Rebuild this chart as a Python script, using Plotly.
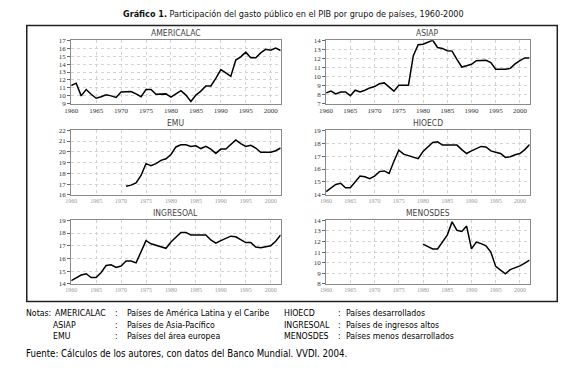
import plotly.graph_objects as go

W, H = 580, 375

years = list(range(1960, 2003))
emu_years = list(range(1971, 2003))
menosdes_years = list(range(1980, 2003))

americalac = [11.3, 11.6, 10.0, 10.8, 10.2, 9.7, 9.9, 10.15, 10.0, 9.8,
              10.5, 10.55, 10.55, 10.25, 9.9, 10.8, 10.8, 10.2, 10.25, 10.25,
              9.85, 10.2, 10.65, 10.1, 9.3, 10.1, 10.6, 11.25, 11.25, 12.2,
              13.3, 12.9, 12.45, 14.5, 14.9, 15.5, 14.8, 14.8, 15.4, 15.85,
              15.75, 16.0, 15.7]
asiap = [8.2, 8.4, 8.1, 8.3, 8.3, 7.9, 8.5, 8.3, 8.5, 8.75,
         8.9, 9.2, 9.3, 8.85, 8.4, 9.05, 9.05, 9.05, 12.3, 13.5,
         13.55, 13.75, 14.0, 13.2, 13.1, 12.85, 12.8, 11.9, 11.05, 11.2,
         11.35, 11.75, 11.8, 11.8, 11.55, 10.8, 10.8, 10.8, 10.9, 11.4,
         11.75, 12.05, 12.05]
emu = [16.8, 16.9, 17.1, 17.8, 18.9, 18.7, 18.9, 19.2, 19.35,
       19.75, 20.45, 20.65, 20.65, 20.5, 20.55, 20.3, 20.5, 20.25, 19.85,
       20.25, 20.25, 20.65, 21.1, 20.75, 20.5, 20.6, 20.35, 19.95, 19.95,
       19.95, 20.1, 20.35]
hioecd = [14.25, 14.55, 14.8, 14.9, 14.55, 14.55, 15.0, 15.45, 15.4, 15.25,
          15.45, 15.8, 15.85, 15.65, 16.6, 17.45, 17.15, 17.05, 16.95, 16.8,
          17.35, 17.7, 18.05, 18.1, 17.85, 17.85, 17.85, 17.85, 17.5, 17.2,
          17.4, 17.6, 17.75, 17.7, 17.4, 17.3, 17.2, 16.9, 16.95, 17.1,
          17.2, 17.5, 17.9]
ingresoal = [14.25, 14.5, 14.7, 14.8, 14.5, 14.5, 14.9, 15.45, 15.5, 15.3,
             15.4, 15.8, 15.8, 15.65, 16.5, 17.4, 17.15, 17.05, 16.9, 16.8,
             17.3, 17.65, 18.05, 18.05, 17.85, 17.85, 17.85, 17.85, 17.45, 17.2,
             17.4, 17.6, 17.75, 17.7, 17.5, 17.25, 17.25, 16.9, 16.85, 16.95,
             17.0, 17.35, 17.85]
menosdes = [11.75, 11.5, 11.3, 11.3, 11.9, 12.6, 13.85, 13.05, 12.95, 13.45,
            11.3, 11.95, 11.8, 11.6, 11.0, 9.65, 9.3, 8.95, 9.35, 9.5,
            9.7, 9.95, 10.25]

x_ticks = [1960, 1965, 1970, 1975, 1980, 1985, 1990, 1995, 2000]

panel_names = ["AMERICALAC", "ASIAP", "EMU", "HIOECD", "INGRESOAL", "MENOSDES"]
panel_x = [years, years, emu_years, years, years, menosdes_years]
panel_y = [americalac, asiap, emu, hioecd, ingresoal, menosdes]
y_ranges = [(9, 17), (7, 14), (16, 22), (14, 19), (14, 19), (8, 14)]

title_txt = "<b>Gráfico 1.</b> Participación del gasto público en el PIB por grupo de países, 1960-2000"
notes = [
    ("Notas:", "AMERICALAC", "Países de América Latina y el Caribe", "HIOECD", "Países desarrollados"),
    ("", "ASIAP", "Países de Asia-Pacífico", "INGRESOAL", "Países de ingresos altos"),
    ("", "EMU", "Países del área europea", "MENOSDES", "Países menos desarrollados"),
]
source_txt = "Fuente: Cálculos de los autores, con datos del Banco Mundial. VVDI. 2004."

# ---- layout geometry (pixels) ----
col_px = [(65, 277), (323, 529)]
row_px = [(37, 102), (129, 195), (221, 286)]


def fx(px):
    return px / W


def fy(py):
    return 1 - py / H


SANS = "DejaVu Sans Condensed, Liberation Sans, sans-serif"
SERIF = "Liberation Serif"

fig = go.Figure()
layout = dict(
    width=W, height=H,
    margin=dict(l=0, r=0, t=0, b=0),
    paper_bgcolor="white", plot_bgcolor="white",
    showlegend=False,
    annotations=[], shapes=[],
)

for i in range(6):
    r, c = divmod(i, 2)
    n = "" if i == 0 else str(i + 1)
    x0, x1 = col_px[c]
    y0, y1 = row_px[r]
    lab_col = "#333333" if r == 0 else "#9a9a9a"
    lab_size = 7 if r == 0 else 6
    fig.add_trace(go.Scatter(
        x=panel_x[i], y=panel_y[i], mode="lines",
        line=dict(color="black", width=1.5),
        xaxis="x" + n, yaxis="y" + n, hoverinfo="skip",
    ))
    layout["xaxis" + n] = dict(
        domain=[fx(x0), fx(x1)], anchor="y" + n, range=[1960, 2002],
        tickvals=x_ticks, ticks="", showline=True, mirror=True,
        linecolor="#8a8a8a", linewidth=1, showgrid=True,
        gridcolor="#d2d2d2", griddash="dot", gridwidth=1, zeroline=False,
        tickfont=dict(family=SERIF, size=lab_size, color=lab_col),
        ticklabelstandoff=0,
    )
    lo, hi = y_ranges[i]
    layout["yaxis" + n] = dict(
        domain=[fy(y1), fy(y0)], anchor="x" + n, range=[lo, hi], dtick=1,
        ticks="outside", ticklen=3, tickcolor="#666", tickwidth=1,
        showline=True, mirror=True, linecolor="#8a8a8a", linewidth=1,
        showgrid=True, gridcolor="#d2d2d2", griddash="dot", gridwidth=1,
        zeroline=False, tickfont=dict(family=SERIF, size=7, color="#333333"),
    )
    layout["annotations"].append(dict(
        text=panel_names[i], x=fx((x0 + x1) / 2), y=fy(y0 - 7),
        xref="paper", yref="paper", xanchor="center", yanchor="middle",
        showarrow=False, font=dict(family=SANS, size=8.5, color="#444444"),
    ))

# title
layout["annotations"].append(dict(
    text=title_txt, x=fx(290), y=fy(10), xref="paper", yref="paper",
    xanchor="center", yanchor="middle", showarrow=False,
    font=dict(family=SANS, size=9, color="#111111"),
))

# notes
note_y = [316, 327.5, 339]
for k, (a, b, d, e, f) in enumerate(notes):
    yy = fy(note_y[k])
    items = [(17, a), (47 if k == 0 else 45, b), (107, ":"), (119, d),
             (278, e), (333, ":"), (341, f)]
    for xp, t in items:
        if not t:
            continue
        layout["annotations"].append(dict(
            text=t, x=fx(xp), y=yy, xref="paper", yref="paper",
            xanchor="left", yanchor="middle", showarrow=False,
            font=dict(family=SANS, size=8.7, color="#000000"),
        ))
layout["annotations"].append(dict(
    text=source_txt, x=fx(17), y=fy(357), xref="paper", yref="paper",
    xanchor="left", yanchor="middle", showarrow=False,
    font=dict(family=SANS, size=9.6, color="#000000"),
))

# outer frame
layout["shapes"].append(dict(
    type="rect", xref="paper", yref="paper",
    x0=fx(20), x1=fx(557), y0=fy(304), y1=fy(22),
    line=dict(color="#222222", width=1.5), fillcolor="rgba(0,0,0,0)",
))

fig.update_layout(**layout)
fig.write_html("out.html", config={"displayModeBar": False},
               post_script="document.body.style.margin='0px';")
